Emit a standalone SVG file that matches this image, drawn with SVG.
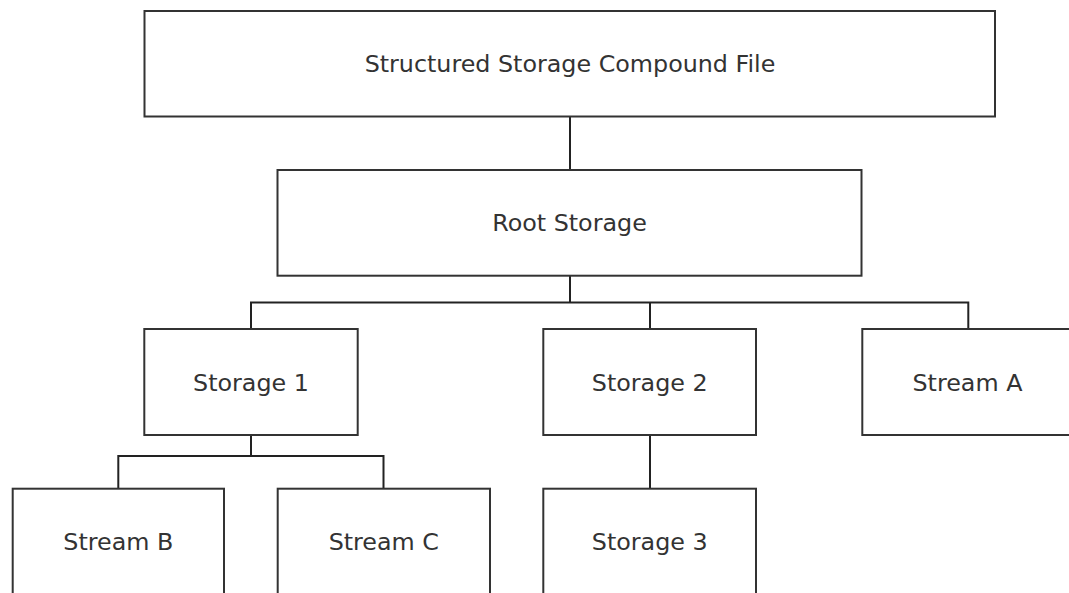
<svg xmlns="http://www.w3.org/2000/svg" width="1069" height="593" viewBox="0 0 1069 593">
<style>
.box{fill:#fff;stroke:#333;stroke-width:2}
.lbl{font-family:"DejaVu Sans",Verdana,sans-serif;font-size:23.8px;fill:#333;text-anchor:middle}
.conn{fill:none;stroke:#222;stroke-width:2}
</style>
<rect width="1069" height="593" fill="#fff"/>
<g id="connectors">
<path class="conn" d="M570 116.5V170"/>
<path class="conn" d="M570 275.7V302.5M251 329V302.5H968.3V329M650 302.5V329"/>
<path class="conn" d="M251 435V456M118.3 488.7V456H383.5V488.7"/>
<path class="conn" d="M650 435V488.7"/>
</g>
<g id="file"><rect class="box" x="144.5" y="11" width="850.5" height="105.5"/><text class="lbl" x="570" y="72.3">Structured Storage Compound File</text></g>
<g id="root"><rect class="box" x="277.5" y="170" width="584" height="105.7"/><text class="lbl" x="569.5" y="231.3">Root Storage</text></g>
<g id="storage1"><rect class="box" x="144.3" y="329" width="213.4" height="106"/><text class="lbl" x="251" y="390.5">Storage 1</text></g>
<g id="storage2"><rect class="box" x="543.3" y="329" width="212.7" height="106"/><text class="lbl" x="649.7" y="390.5">Storage 2</text></g>
<g id="streamA"><rect class="box" x="862.3" y="329" width="213" height="106"/><text class="lbl" x="967.5" y="390.5">Stream A</text></g>
<g id="streamB"><rect class="box" x="12.7" y="488.7" width="211.3" height="110"/><text class="lbl" x="118.3" y="550">Stream B</text></g>
<g id="streamC"><rect class="box" x="277.7" y="488.7" width="212.3" height="110"/><text class="lbl" x="383.8" y="550">Stream C</text></g>
<g id="storage3"><rect class="box" x="543.3" y="488.7" width="212.7" height="110"/><text class="lbl" x="649.7" y="550">Storage 3</text></g>
</svg>
